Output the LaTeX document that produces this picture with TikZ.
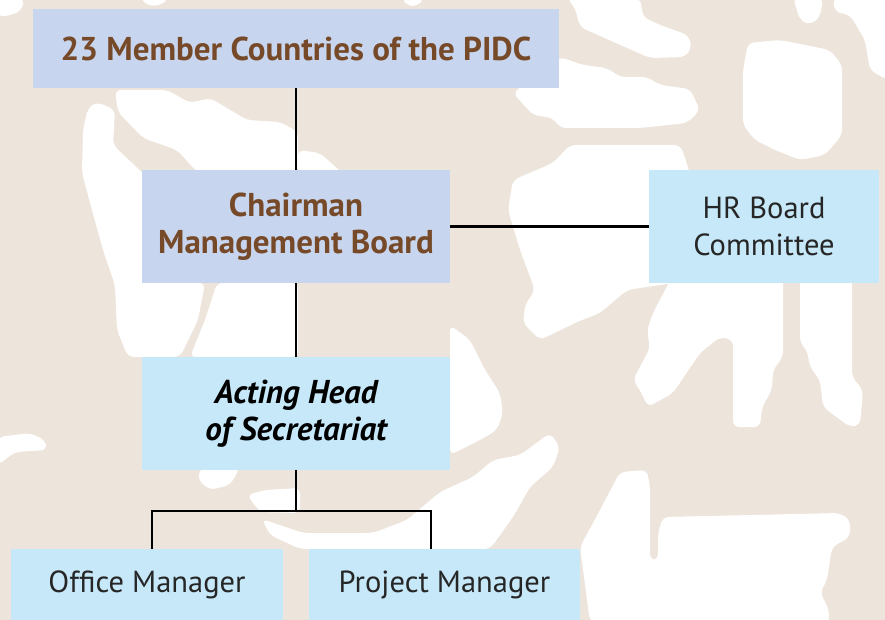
\documentclass[tikz,border=0pt]{standalone}
\usepackage{fontspec}
\setmainfont{PT Sans}
\usepackage{xcolor}
\usepackage{tikz}
\usetikzlibrary{positioning,calc}

\definecolor{boardblue}{HTML}{C8D5EE}
\definecolor{staffcyan}{HTML}{C6E8F8}
\definecolor{barkbrown}{HTML}{764A29}
\definecolor{sandbg}{HTML}{EDE4DB}

\tikzset{
  orgbox/.style={rectangle, inner sep=0pt, outer sep=0pt, align=center},
  boardbox/.style={orgbox, fill=boardblue, text=barkbrown, font=\bfseries\fontsize{33}{37}\selectfont},
  staffbox/.style={orgbox, fill=staffcyan, text=black!85, font=\fontsize{30.5}{37}\selectfont},
  link/.style={draw=black, line width=2.6pt},
  blob/.style={fill=white, draw=none, rounded corners=6pt}
}

\begin{document}
\begin{tikzpicture}[x=1pt, y=-1pt]
    \useasboundingbox (0,0) rectangle (885,620);
    \fill[sandbg] (0,0) rectangle (885,620);
    % white patches of the background
    \fill[blob] (-2,-2) -- (24,-2) -- (22,10) -- (12,15) -- (-2,17) -- cycle;
    \fill[blob] (140,-2) -- (168,-2) -- (162,5) -- (148,6) -- cycle;
    \fill[blob] (402,-2) -- (424,-2) -- (418,6) -- (407,6) -- cycle;
    \fill[blob] (88,108) -- (97,102) -- (115,110) -- (113,145) -- (150,180) -- (150,283) -- (205,283) -- (198,320) -- (180,357) -- (128,357) -- (117,330) -- (115,285) -- (103,250) -- (92,210) -- (82,173) -- (83,130) -- cycle;
    \fill[blob] (115,90) -- (167,90) -- (190,103) -- (210,98) -- (247,120) -- (280,122) -- (298,132) -- (298,172) -- (197,172) -- (177,150) -- (143,138) -- (118,112) -- cycle;
    \fill[blob] (217,283) -- (298,283) -- (298,357) -- (190,357) -- (205,320) -- cycle;
    \fill[blob] (298,150) -- (320,153) -- (348,178) -- (383,170) -- (402,184) -- (402,195) -- (298,195) -- cycle;
    \fill[blob] (567,-2) -- (640,-2) -- (643,17) -- (660,25) -- (688,35) -- (692,47) -- (685,57) -- (650,58) -- (625,47) -- (580,27) -- (575,8) -- cycle;
    \fill[blob] (513,93) -- (560,57) -- (583,65) -- (607,68) -- (620,77) -- (647,77) -- (660,85) -- (690,89) -- (700,110) -- (687,123) -- (640,128) -- (560,128) -- (553,118) -- (533,115) -- cycle;
    \fill[blob] (513,180) -- (553,163) -- (570,145) -- (680,145) -- (685,157) -- (690,175) -- (690,285) -- (673,283) -- (627,290) -- (600,313) -- (577,322) -- (540,340) -- (523,323) -- (525,305) -- (535,290) -- (520,250) -- (508,210) -- cycle;
    \fill[blob] (748,43) -- (780,40) -- (830,50) -- (842,65) -- (842,135) -- (825,155) -- (800,160) -- (775,150) -- (755,140) -- (743,125) -- (743,70) -- cycle;
    \fill[blob] (793,-2) -- (823,-2) -- (820,17) -- (810,25) -- (800,20) -- cycle;
    \fill[blob] (833,-2) -- (887,-2) -- (887,80) -- (870,70) -- (865,40) -- (850,15) -- (835,12) -- cycle;
    \fill[blob] (653,313) -- (673,275) -- (783,275) -- (783,357) -- (773,370) -- (772,390) -- (762,407) -- (760,427) -- (733,427) -- (733,340) -- (720,337) -- (700,353) -- (673,393) -- (648,407) -- (640,390) -- (633,380) -- (650,348) -- (647,330) -- cycle;
    \fill[blob] (800,275) -- (852,275) -- (852,377) -- (863,390) -- (860,425) -- (850,427) -- (823,407) -- (820,380) -- (810,367) -- (807,350) -- (800,343) -- cycle;
    \fill[blob] (450,325) -- (470,340) -- (485,370) -- (500,393) -- (503,413) -- (497,430) -- (480,440) -- (450,455) -- cycle;
    \fill[blob] (-2,437) -- (30,433) -- (45,440) -- (47,450) -- (15,452) -- (-2,465) -- cycle;
    \fill[blob] (200,468) -- (240,468) -- (230,485) -- (210,490) -- (198,480) -- cycle;
    \fill[blob] (247,495) -- (265,490) -- (300,488) -- (300,513) -- (260,512) -- cycle;
    \fill[blob] (262,519) -- (303,533) -- (373,533) -- (407,520) -- (440,492) -- (473,477) -- (493,460) -- (520,455) -- (550,433) -- (560,447) -- (553,467) -- (530,487) -- (513,517) -- (490,549) -- (300,549) -- (270,535) -- cycle;
    \fill[blob] (620,472) -- (647,470) -- (650,487) -- (650,560) -- (658,560) -- (658,533) -- (663,517) -- (840,513) -- (850,520) -- (850,537) -- (832,547) -- (827,580) -- (820,593) -- (828,607) -- (830,622) -- (590,622) -- (580,547) -- (600,510) -- cycle;

    % the chart
    \node[boardbox, minimum width=526pt, minimum height=79pt] (members) at (296,48.5) {23 Member Countries of the PIDC};
    \node[boardbox, minimum width=308pt, minimum height=113pt, below=82pt of members] (chair) {Chairman\\Management Board};
    \node[staffbox, minimum width=230pt, minimum height=113pt, right=199pt of chair] (hrboard) {HR Board\\Committee};
    \node[staffbox, minimum width=308pt, minimum height=113pt, below=74pt of chair, text=black, font=\bfseries\itshape\fontsize{33}{37}\selectfont] (acting) {Acting Head\\of Secretariat};
    \node[staffbox, minimum width=272pt, minimum height=71pt, below=79pt of acting, xshift=-149pt] (office) {Office Manager};
    \node[staffbox, minimum width=271pt, minimum height=71pt, right=26pt of office] (project) {Project Manager};

    \coordinate[below=41pt of acting.south] (bus);
    \draw[link] (members) -- (chair);
    \draw[link] (chair) -- (hrboard);
    \draw[link] (chair) -- (acting);
    \draw[link] (acting) -- (bus);
    \draw[link] ([xshift=5pt]office.north) |- (bus) -| ([xshift=-13.5pt]project.north);
\end{tikzpicture}
\end{document}
